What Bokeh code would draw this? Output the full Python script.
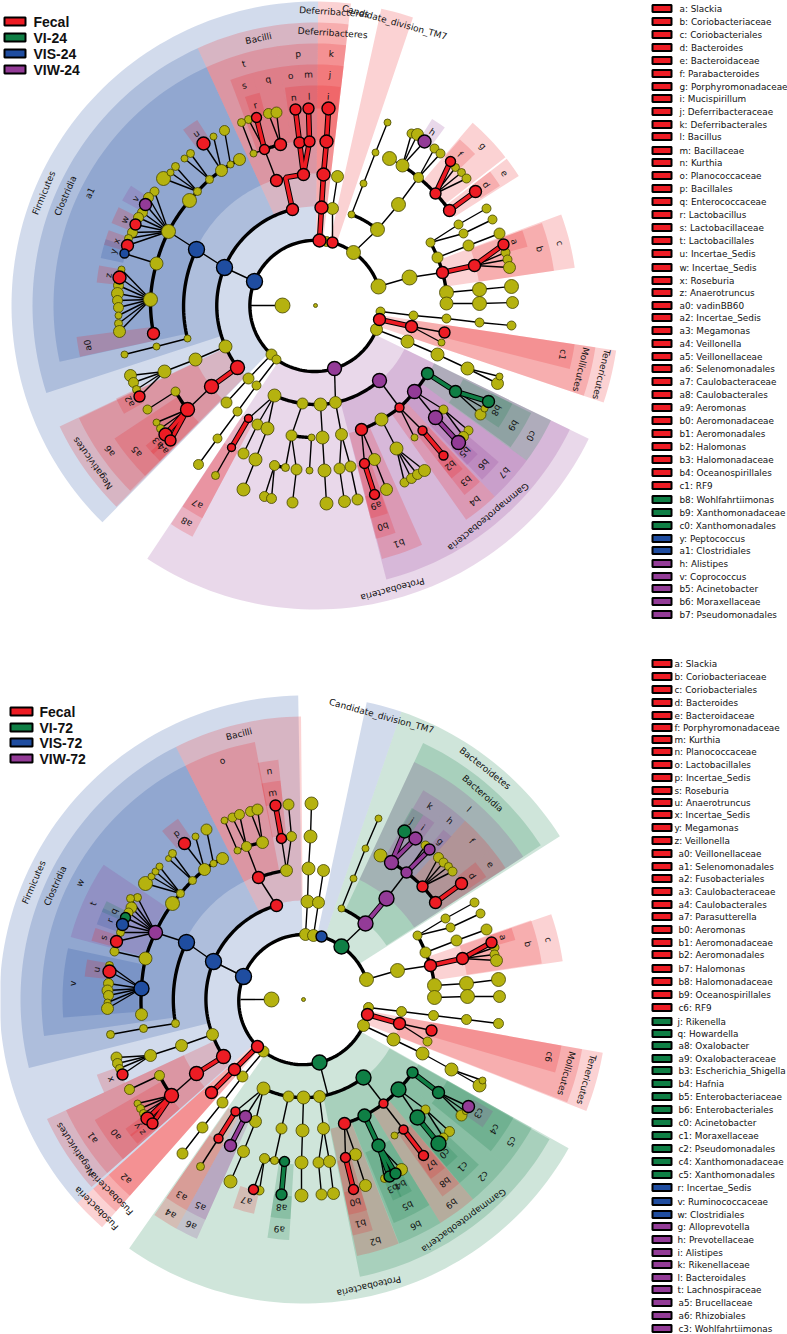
import math
from bokeh.plotting import figure
from bokeh.models import Range1d
from bokeh.core.properties import value
from bokeh.embed import file_html
from bokeh.resources import INLINE

# ---------- colours ----------
RED, GREEN, BLUE, PURPLE, OLIVE = "#ed1c24", "#0f7f45", "#1f4da0", "#933b97", "#b5b20f"
COL = {"R": RED, "G": GREEN, "B": BLUE, "P": PURPLE}

# ---------- clade rank geometry ----------
RANK_IN = {"phylum": 66, "class": 99, "order": 132, "family": 165, "genus": 197}
RANK_OUT = {"phylum": 304, "class": 283, "order": 262, "family": 241, "genus": 220}
RANK_LAB = {"phylum": 294, "class": 273, "order": 252, "family": 231, "genus": 209}

CENTER_24 = (315, 305)
CENTER_72 = (303, 999)

# ---------- panel 1 clades: name, start angle, end angle, rank, group ----------
clades_24 = [
    ("Firmicutes", 89.5, 225.5, "phylum", "B"), ("Deferribacteres", 83.3, 89.5, "phylum", "R"),
    ("Candidate_division_TM7", 71.3, 77.5, "phylum", "R"), ("Tenericutes", -18.6, -8.5, "phylum", "R"),
    ("Proteobacteria", -123.6, -26, "phylum", "P"),
    ("Clostridia", 114.6, 198, "class", "B"), ("Bacilli", 89.5, 114.6, "class", "R"),
    ("Deferribacteres", 83.3, 89.5, "class", "R"), ("Mollicutes", -18.6, -8.5, "class", "R"),
    ("Negativicutes", 205.3, 225.3, "class", "R"), ("Gammaproteobacteria", -75.5, -26, "class", "P"),
    ("a1", 114.6, 192.4, "order", "B"), ("t", 98.4, 114.6, "order", "R"), ("p", 89.5, 98.4, "order", "R"),
    ("k", 83.3, 89.5, "order", "R"), ("c", 8.3, 20.3, "order", "R"), ("c1", -14, -8.5, "order", "R"),
    ("a6", 205.5, 225, "order", "R"), ("a8", 236.5, 242, "order", "R"), ("b1", -75.3, -66, "order", "R"),
    ("b4", -54.9, -46.8, "order", "R"), ("b7", -46.8, -36.3, "order", "P"), ("c0", -36.3, -26, "order", "G"),
    ("s", 105.2, 110.7, "family", "R"), ("q", 98.4, 105.2, "family", "R"), ("o", 94, 98.4, "family", "R"),
    ("m", 89.5, 94, "family", "R"), ("j", 83.3, 89.5, "family", "R"), ("g", 38, 49.3, "family", "R"),
    ("e", 32.5, 37.5, "family", "R"), ("b", 8.3, 20, "family", "R"), ("a0", 187.5, 192.3, "family", "R"),
    ("a5", 213.5, 225, "family", "R"), ("a7", 236.5, 242, "family", "R"), ("b0", -75.5, -70.6, "family", "R"),
    ("b3", -51.8, -47, "family", "R"), ("b6", -46.3, -40.5, "family", "P"), ("b9", -36, -26.5, "family", "G"),
    ("r", 104.7, 108.7, "genus", "R"), ("n", 94, 98, "genus", "R"), ("l", 89.5, 94, "genus", "R"),
    ("i", 83.5, 89.5, "genus", "R"), ("h", 54, 58, "genus", "P"), ("f", 43.5, 49, "genus", "R"),
    ("d", 33, 37.5, "genus", "R"), ("a", 15.5, 20, "genus", "R"), ("u", 122.5, 127, "genus", "R"),
    ("v", 147, 151.5, "genus", "P"), ("w", 153.5, 158, "genus", "R"), ("x", 160, 164, "genus", "R"),
    ("y", 162.5, 167.5, "genus", "B"), ("z", 169.5, 174, "genus", "R"), ("a2", 205, 209.5, "genus", "R"),
    ("a3", 219.5, 222.5, "genus", "R"), ("a4", 221.5, 225, "genus", "R"), ("a9", -75.5, -70.8, "genus", "R"),
    ("b2", -51.8, -48, "genus", "R"), ("b5", -46.5, -42.5, "genus", "P"), ("b8", -33.7, -26.5, "genus", "G"),
]

clades_72 = [
    ("Firmicutes", 91, 222, "phylum", "B"), ("Fusobacteria", 222, 228.5, "phylum", "R"),
    ("Candidate_division_TM7", 71.2, 78, "phylum", "B"), ("Bacteroidetes", 32.5, 71.2, "phylum", "G"),
    ("Tenericutes", -21.5, -10.1, "phylum", "R"), ("Proteobacteria", -125, -29.3, "phylum", "G"),
    ("Bacilli", 90.5, 116.8, "class", "R"), ("Clostridia", 116.8, 194, "class", "B"),
    ("Negativicutes", 205, 221.5, "class", "R"), ("Fusobacteria", 222, 228.5, "class", "R"),
    ("Bacteroidia", 33, 65, "class", "G"), ("Mollicutes", -21.3, -10.1, "class", "R"),
    ("Gammaproteobacteria", -78.5, -29.6, "class", "G"),
    ("o", 100.7, 116.8, "order", "R"), ("w", 116.8, 188, "order", "B"), ("a1", 205, 221.5, "order", "R"),
    ("a2", 222, 228.5, "order", "R"), ("l", 33, 65, "order", "P"), ("c", 8.4, 19, "order", "R"),
    ("c6", -16.2, -10.1, "order", "R"), ("c5", -39.4, -29.4, "order", "G"), ("c2", -49.7, -39.4, "order", "G"),
    ("b9", -58.5, -49.7, "order", "R"), ("b6", -68.6, -58.5, "order", "G"), ("b2", -78.2, -68.7, "order", "R"),
    ("a4", 235.3, 241, "order", "R"), ("a6", 241, 246, "order", "P"),
    ("n", 96, 101, "family", "R"), ("v", 167.7, 184.3, "family", "B"), ("t", 146, 165, "family", "P"),
    ("a0", 210, 221.5, "family", "R"), ("k", 53.5, 60.2, "family", "P"), ("h", 47.9, 53.5, "family", "P"),
    ("f", 38.6, 47.9, "family", "R"), ("e", 33.1, 38.6, "family", "R"), ("b", 8.6, 19.2, "family", "R"),
    ("c4", -39, -29.4, "family", "G"), ("c1", -49.6, -43.3, "family", "G"), ("b8", -54.8, -49.7, "family", "R"),
    ("b5", -68, -58.5, "family", "G"), ("b1", -78.2, -73.3, "family", "R"), ("a3", 235.3, 241, "family", "R"),
    ("a5", 241, 246, "family", "P"), ("a9", 261.4, 266.6, "family", "G"),
    ("m", 96, 101, "genus", "R"), ("p", 124.8, 130, "genus", "R"), ("q", 153.5, 156.5, "genus", "G"),
    ("r", 155.5, 160, "genus", "B"), ("s", 161, 164.5, "genus", "R"), ("u", 169.5, 174, "genus", "R"),
    ("x", 200, 205, "genus", "R"), ("y", 216, 218.5, "genus", "R"), ("z", 218, 221, "genus", "R"),
    ("j", 57, 60.5, "genus", "G"), ("i", 53.5, 57, "genus", "P"), ("g", 47.8, 50.5, "genus", "P"),
    ("d", 33.8, 38.6, "genus", "R"), ("a", 15.7, 19, "genus", "R"), ("c3", -35.5, -30.5, "genus", "P"),
    ("c0", -49.5, -45.5, "genus", "G"), ("b7", -54.6, -50, "genus", "R"), ("b4", -64, -60.5, "genus", "G"),
    ("b3", -66, -63.5, "genus", "G"), ("b0", -78.1, -73.2, "genus", "R"), ("a8", 261.4, 266.6, "genus", "G"),
    ("a7", 251.3, 257, "genus", "R"),
]

# ---------- panel 1 nodes (x, y, size) ----------
olive_24 = [(282,305,7.5),(315,305,2),(156,263,6.5),(168,231,7),(154,191,4.5),(148,197,5),(142,212,5),(138,217,5),(132,232,5),(128,238,4),
    (189,200,7),(197,191,4),(209,179,4),(221,170,6),(230,164,3.5),(239,159,6),(163,178,7),(170,172,3.5),(175,166,4),(184,158,3.5),(190,153,4),(213,136,3.5),(224,130,5),
    (150,299,7),(121,269,3.5),(118,285,5),(117,293,6),(117,300,5),(118,307,5),(118,315,3.5),(118,323,4),(119,331,6),
    (187,338,3.5),(156,346,3.5),(124,354,3.5),(225,346,6.5),(195,359,6.5),(164,371,6.5),(130,375,6),(133,382,5),(136,389,4),
    (175,391,4.5),(147,409,4.5),(156,422,3.5),(160,428,4),(271,354,5.5),(276,359,4.5),(248,378,5.5),(226,402,5.5),(256,385,4.5),(237,411,4.5),(217,438,4.5),(198,464,5),
    (274,395,6.5),(302,403,5.5),(320,404,6.5),(335,402,6),(257,424,5.5),(243,453,5.5),(267,428,6.5),(255,459,6.5),(243,489,6.5),(215,475,4),
    (291,435,5.5),(311,437,3.5),(274,465,5),(285,467,4),(264,496,5),(271,498,5),(296,469,5.5),(292,502,5.5),(309,470,3.5),(322,437,6.5),(324,470,6.5),(326,503,6.5),
    (341,434,6),(350,466,5.5),(357,499,5.5),(339,468,5.5),(344,501,6),(381,419,6.5),(443,409,4.5),(468,430,4.5),(463,436,5),(414,437,3.5),(396,448,6.5),(404,482,4.5),(411,478,5),(417,474,5),(424,470,6),
    (374,459,6),(386,489,6),(480,414,5.5),(484,408,3.5),(376,329,6),(380,311,4.5),(441,342,3.5),(413,315,4.5),(446,318,4.5),(479,322,4.5),(511,325,4.5),
    (407,341,6.5),(437,354,6.5),(467,368,6.5),(497,383,6),(499,376,3.5),(378,286,7.5),(353,252,7),(326,241,5),(409,277,7.5),(437,257,5.5),(430,242,4.5),(446,292,7),(446,303,6.5),
    (479,289,7),(511,286,7),(479,303,7),(512,302,6),(505,252,4.5),(507,259,4.5),(509,267,6),(468,245,5.5),(499,233,5.5),(458,224,4.5),(486,208,4.5),(463,233,4.5),(492,219,4.5),
    (455,167,4),(461,172,4),(466,178,4.5),(418,177,5),(434,148,4.5),(440,153,4.5),(402,165,6.5),(398,204,7),(377,229,7),(351,214,3.5),(363,183,3.5),(375,152,3.5),(387,122,3.5),
    (389,158,7),(411,133,4.5),(417,134,6),(332,208,6),(337,176,6),(248,119,4),(241,122,4),(253,153,3.5),(268,113,5),(276,112,5.5)]
red_24 = [(203,143,6.5),(135,224,5.5),(127,245,6),(119,277,6.5),(153,333,6),(139,396,5.5),(237,367,7),(211,386,7),(187,409,7),(165,434,6.5),(170,440,5.5),(248,418,4),(231,447,4),
    (399,407,4.5),(361,429,6),(422,430,4.5),(443,455,4.5),(364,463,5),(374,494,5),(379,319,6),(411,326,6),(444,332,5.5),(442,272,6),(474,265,6),(503,244,5.5),
    (449,210,6),(435,193,5.5),(475,191,6),(450,161,5),(319,240,6.5),(332,242,5.5),(321,207,6.5),(323,174,6.5),(326,141,6.5),(328,108,6.5),
    (292,209,6),(276,180,6),(303,174,6),(299,142,5.5),(309,141,5.5),(295,109,5.5),(308,108,5.5),(264,149,5),(280,144,6),(256,117,5)]
green_24 = [(427,373,6),(455,391,6),(488,401,6)]
blue_24 = [(254,281,8),(224,267,8),(196,249,8),(124,253,4.5)]
purple_24 = [(145,204,6),(334,368,7),(379,380,7),(414,391,7),(435,417,7),(458,442,7),(424,141,6.5)]

# ---------- panel 1 branches ----------
thin_chains_24 = [
    [(254,281),(224,267),(196,249),(168,231)], [(156,263),(124,253)], [(187,338),(156,346),(124,354)],
    [(225,346),(195,359),(164,371)], [(211,386),(187,409)], [(175,391),(147,409)], [(271,354),(248,378),(226,402)],
    [(276,359),(256,385),(237,411),(217,438),(198,464)], [(334,368),(335,402)], [(274,395),(257,424),(243,453)],
    [(274,395),(267,428),(255,459),(243,489)], [(274,395),(248,418)], [(231,447),(215,475)], [(302,403),(291,435),(285,467)],
    [(291,435),(296,469),(292,502)], [(311,437),(309,470)], [(320,404),(322,437),(324,470),(326,503)],
    [(335,402),(341,434),(350,466),(357,499)], [(341,434),(339,468),(344,501)], [(379,380),(399,407)],
    [(414,391),(443,409),(468,430)], [(443,409),(463,436)], [(414,391),(435,417)], [(399,407),(422,430)], [(399,407),(414,437)],
    [(381,419),(396,448)], [(361,429),(364,463)], [(361,429),(374,459),(386,489)],
    [(376,329),(407,341),(437,354),(467,368),(497,383)], [(467,368),(499,376)], [(380,311),(413,315),(446,318),(479,322),(511,325)],
    [(411,326),(444,332)], [(411,326),(441,342)], [(378,286),(409,277),(442,272)], [(437,257),(468,245),(499,233)],
    [(430,242),(458,224),(486,208)], [(430,242),(463,233),(492,219)], [(446,292),(479,289),(511,286)], [(446,303),(479,303),(512,302)],
    [(353,252),(377,229),(398,204),(418,177)], [(351,214),(363,183),(375,152),(387,122)], [(332,242),(332,208),(337,176)],
    [(285,177),(276,180),(264,149),(248,119)], [(264,149),(253,153),(241,122)], [(280,144),(268,113)], [(280,144),(276,112)],
    [(250,305),(282,305)], [(402,165),(389,158)],
]
thin_fans_24 = [
    ((168,231),[(154,191),(148,197),(145,204),(142,212),(138,217),(135,224),(132,232),(128,238),(127,245)]),
    ((150,299),[(121,269),(119,277),(118,285),(117,293),(117,300),(118,307),(118,315),(118,323),(119,331)]),
    ((197,191),[(163,178),(170,172),(175,166)]), ((209,179),[(184,158),(190,153)]), ((221,170),[(203,143),(213,136)]), ((230,164),[(224,130)]),
    ((164,371),[(130,375),(133,382),(136,389),(139,396)]), ((187,409),[(156,422),(160,428)]), ((274,465),[(264,496),(271,498)]),
    ((396,448),[(404,482),(411,478),(417,474),(424,470)]), ((455,391),[(480,414),(484,408)]), ((474,265),[(505,252),(507,259),(509,267)]),
    ((435,193),[(455,167),(461,172),(466,178)]), ((418,177),[(434,148),(440,153)]), ((402,165),[(411,133),(417,134),(424,141)]),
]
thick_chains_24 = [
    [(378,286),(353,252),(332,242),(326,241),(319,240),(254,281),(271,354)], [(276,359),(334,368),(376,329),(379,319),(380,311)],
    [(292,209),(224,267),(225,346),(237,367)], [(196,249),(187,338)], [(239,159),(230,164),(221,170),(209,179),(197,191),(189,200),(168,231),(156,263),(150,299),(153,333)],
    [(264,149),(280,144)], [(187,409),(175,391)], [(402,165),(418,177),(435,193),(449,210)], [(377,229),(351,214)],
    [(430,242),(437,257),(442,272),(446,292),(446,303)], [(274,395),(302,403),(320,404),(335,402),(379,380)], [(291,435),(311,437)], [(274,465),(285,467)],
    [(361,429),(381,419),(399,407),(414,391),(427,373)],
]
red_edges_24 = [[(237,367),(211,386)],[(187,409),(165,434)],[(187,409),(170,440)],[(248,418),(231,447)],[(292,209),(285,177),(303,174)],
    [(303,174),(299,142),(295,109)],[(303,174),(309,141),(308,108)],[(319,240),(321,207),(323,174),(326,141),(328,108)],[(264,149),(256,117)],
    [(449,210),(475,191)],[(435,193),(450,161)],[(442,272),(474,265),(503,244)],[(379,319),(411,326)],[(364,463),(374,494)],[(422,430),(443,455)]]
green_edges_24 = [[(427,373),(455,391),(488,401)]]
purple_edges_24 = [[(435,417),(458,442)]]

# ---------- panel 2 nodes (x, y, size) ----------
olive_72 = [(271,999,7.5),(303,999,2),(145,958,6.5),(141,1014,6),(137,897,4),(130,898,4),(131,907,5.5),(128,912,4.5),(120,932,4),(114,951,4.5),
    (172,903,7),(180,893,4),(192,880,4),(204,869,6),(213,863,3.5),(222,858,6),(145,883,7),(151,876,3.5),(155,871,3.5),(159,866,3.5),(168,858,3),(172,853,4),(195,836,3.5),(206,829,5.5),
    (109,965,4),(108,983,5),(107,990,5.5),(108,995,5),(107,1002,3.5),(107,1008,6),(175,1023,4),(143,1028,4),(110,1034,4),(212,1034,6),(181,1045,6),(150,1055,6),(116,1057,5.5),(117,1063,5),(119,1068,4),
    (159,1075,5),(129,1089,5),(137,1103,3.5),(140,1108,4),(143,1113,4),(263,1051,5.5),(242,1076,5.5),(222,1102,5.5),(202,1127,5.5),(182,1153,5.5),
    (263,1088,6.5),(288,1096,5.5),(303,1097,6.5),(319,1096,6),(255,1121,6),(243,1151,6),(230,1181,6.5),(200,1166,4),(281,1128,5.5),(264,1158,5),(274,1160,4),(259,1190,4.5),
    (302,1130,6.5),(301,1162,6.5),(301,1195,6.5),(323,1128,6),(318,1162,5.5),(321,1194,5.5),(329,1161,6),(333,1193,6),(461,1115,5.5),(465,1111,3),
    (401,1169,6),(384,1178,4),(394,1135,3.5),(425,1109,4.5),(449,1131,5),(443,1137,4.5),(355,1154,6),(365,1185,6),
    (368,1007,5),(401,1011,5),(433,1015,5),(466,1019,5),(498,1023,5),(363,1025,6),(393,1039,6.5),(422,1053,6.5),(451,1069,6.5),(479,1085,6.5),(482,1080,3.5),(427,1041,4.5),
    (434,985,7),(466,983,7),(498,979,7),(434,997,7),(467,996,7),(499,996,6),(494,947,4.5),(494,954,4.5),(496,960,6),(397,970,7),(366,979,7),(305,934,6),(313,935,6),
    (425,952,5.5),(417,935,4.5),(456,940,5.5),(486,929,5.5),(445,918,4.5),(474,902,4.5),(450,927,4.5),(480,913,4.5),(341,908,3.5),(353,878,3.5),(365,848,3.5),(378,818,3.5),
    (380,855,6.5),(425,845,4.5),(438,857,5),(443,862,4.5),(448,866,4),(452,871,4.5),(311,803,6.5),(310,836,6.5),(308,868,6.5),(307,901,6.5),(318,902,6),(323,870,6),
    (286,870,6),(291,836,5),(288,804,5.5),(246,846,5),(262,842,6),(237,850,3.5),(224,820,3.5),(232,817,4.5),(239,814,5),(250,811,5),(257,809,5.5)]
red_72 = [(109,971,6.5),(116,941,6),(184,843,6),(122,1074,5.5),(223,1056,7),(196,1073,7),(171,1095,7),(147,1118,6.5),(152,1123,5.5),(257,1046,6),(234,1069,6),(211,1092,6),
    (235,1111,4.5),(218,1138,4.5),(253,1189,5),(383,1103,4.5),(344,1123,6),(345,1157,5),(353,1189,5),(403,1129,4.5),(423,1155,5),(367,1014,6),(399,1023,6),(431,1030,5.5),
    (430,965,6),(462,958,6),(491,942,5.5),(422,886,5.5),(435,902,6),(461,883,6),(276,905,6),(258,877,6),(281,838,5),(275,805,5.5)]
green_72 = [(125,917,5),(319,1062,7.5),(284,1161,5),(281,1194,5.5),(363,1077,7.5),(398,1089,7.5),(412,1072,5.5),(438,1092,6),(364,1115,6.5),(378,1145,6.5),(389,1176,5.5),(395,1173,5.5),
    (417,1117,7.5),(438,1143,7.5),(341,946,7.5),(404,831,6.5)]
blue_72 = [(243,976,8),(213,961,8),(186,942,8),(141,988,7.5),(122,924,6),(321,936,5.5)]
purple_72 = [(155,932,7),(245,1116,6),(230,1145,6),(468,1106,6),(365,923,7.5),(386,898,7.5),(406,872,5.5),(391,862,7),(415,838,6.5),(429,849,5.5)]

# ---------- panel 2 branches ----------
thin_chains_72 = [
    [(243,976),(213,961),(186,942),(155,932)], [(145,958),(114,951)], [(175,1023),(143,1028),(110,1034)], [(212,1034),(181,1045),(150,1055)],
    [(196,1073),(171,1095)], [(159,1075),(129,1089)], [(263,1051),(242,1076),(222,1102),(202,1127),(182,1153)], [(319,1062),(327,1093)],
    [(263,1088),(255,1121),(243,1151),(230,1181)], [(263,1088),(245,1116)], [(263,1088),(235,1111)], [(218,1138),(200,1166)], [(288,1096),(281,1128),(274,1160)],
    [(303,1097),(302,1130),(301,1162),(301,1195)], [(319,1096),(323,1128),(318,1162),(321,1194)], [(323,1128),(329,1161),(333,1193)],
    [(386,898),(406,872)], [(406,872),(425,845)], [(391,862),(380,855)], [(341,908),(353,878),(365,848),(378,818)], [(341,946),(365,923)],
    [(366,979),(397,970),(430,965)], [(425,952),(456,940),(486,929)], [(417,935),(445,918),(474,902)], [(417,935),(450,927),(480,913)],
    [(434,985),(466,983),(498,979)], [(434,997),(467,996),(499,996)], [(368,1007),(401,1011),(433,1015),(466,1019),(498,1023)],
    [(399,1023),(431,1030)], [(399,1023),(427,1041)], [(363,1025),(393,1039),(422,1053),(451,1069),(479,1085)], [(451,1069),(482,1080)],
    [(398,1089),(417,1117)], [(398,1089),(425,1109),(449,1131)], [(425,1109),(443,1137)], [(383,1103),(403,1129)], [(403,1129),(394,1135)],
    [(344,1123),(345,1157)], [(344,1123),(355,1154),(365,1185)], [(363,1077),(383,1103)],
    [(305,934),(307,901),(308,868),(310,836),(311,803)], [(313,935),(318,902),(323,870)],
    [(276,905),(258,877),(246,846)], [(286,870),(281,838)], [(286,870),(291,836),(288,804)], [(246,846),(237,850),(224,820)], [(240,999),(271,999)],
]
thin_fans_72 = [
    ((155,932),[(137,897),(130,898),(131,907),(128,912),(125,917),(122,924),(120,932),(116,941)]),
    ((141,988),[(109,965),(109,971),(108,983),(107,990),(108,995),(107,1002),(107,1008)]),
    ((150,1055),[(116,1057),(117,1063),(119,1068),(122,1074)]), ((171,1095),[(137,1103),(140,1108),(143,1113)]),
    ((180,893),[(145,883),(151,876),(155,871),(159,866)]), ((192,880),[(168,858),(172,853)]), ((204,869),[(184,843),(195,836)]), ((213,863),[(206,829)]),
    ((264,1158),[(253,1189),(259,1190)]), ((438,1092),[(468,1106),(461,1115),(465,1111)]), ((378,1145),[(384,1178),(401,1169)]),
    ((422,886),[(438,857),(443,862),(448,866),(452,871)]), ((462,958),[(494,947),(494,954),(496,960)]),
    ((246,846),[(232,817),(239,814)]), ((262,842),[(250,811),(257,809)]),
]
thick_chains_72 = [
    [(363,1025),(319,1062),(263,1051),(257,1046),(243,976),(305,934),(313,935),(321,936),(341,946),(366,979)],
    [(276,905),(213,961),(212,1034),(223,1056)], [(186,942),(175,1023)],
    [(222,858),(213,863),(204,869),(192,880),(180,893),(172,903),(155,932),(145,958),(141,988),(141,1014)],
    [(258,877),(286,870)], [(246,846),(262,842)], [(264,1158),(274,1160),(284,1161)], [(365,923),(341,908)],
    [(417,935),(425,952),(430,965),(434,985),(434,997)], [(391,862),(406,872),(422,886),(435,902)],
    [(263,1088),(288,1096),(303,1097),(319,1096),(363,1077)], [(344,1123),(364,1115),(383,1103),(398,1089),(412,1072)], [(171,1095),(159,1075)],
]
red_edges_72 = [[(223,1056),(196,1073)],[(171,1095),(147,1118)],[(171,1095),(152,1123)],[(257,1046),(234,1069),(211,1092)],[(235,1111),(218,1138)],
    [(345,1157),(353,1189)],[(403,1129),(423,1155)],[(367,1014),(399,1023)],[(430,965),(462,958),(491,942)],[(435,902),(461,883)],[(281,838),(275,805)]]
green_edges_72 = [[(284,1161),(281,1194)],[(364,1115),(378,1145),(389,1176)],[(378,1145),(395,1173)],[(412,1072),(438,1092)],[(417,1117),(438,1143)]]
purple_edges_72 = [[(245,1116),(230,1145)],[(365,923),(386,898)],[(406,872),(429,849)],[(391,862),(404,831)],[(391,862),(415,838)]]

# ---------- legends ----------
groups_24 = ["Fecal", "VI-24", "VIS-24", "VIW-24"]
groups_72 = ["Fecal", "VI-72", "VIS-72", "VIW-72"]
group_keys = ["R", "G", "B", "P"]
group_y_24 = [21, 37, 53, 69]
group_y_72 = [711, 727, 742, 758]

legend_24 = [
 ("a: Slackia","R",8),("b: Coriobacteriaceae","R",21),("c: Coriobacteriales","R",34),("d: Bacteroides","R",47),("e: Bacteroidaceae","R",60),
 ("f: Parabacteroides","R",73),("g: Porphyromonadaceae","R",86),("i: Mucispirillum","R",98),("j: Deferribacteraceae","R",111),("k: Deferribacterales","R",124),
 ("l: Bacillus","R",136),("m: Bacillaceae","R",150),("n: Kurthia","R",162),("o: Planococcaceae","R",175),("p: Bacillales","R",188),
 ("q: Enterococcaceae","R",201),("r: Lactobacillus","R",214),("s: Lactobacillaceae","R",227),("t: Lactobacillales","R",240),("u: Incertae_Sedis","R",253),
 ("w: Incertae_Sedis","R",267),("x: Roseburia","R",280),("z: Anaerotruncus","R",292),("a0: vadinBB60","R",305),("a2: Incertae_Sedis","R",317),
 ("a3: Megamonas","R",330),("a4: Veillonella","R",343),("a5: Veillonellaceae","R",356),("a6: Selenomonadales","R",368),("a7: Caulobacteraceae","R",381),
 ("a8: Caulobacterales","R",394),("a9: Aeromonas","R",407),("b0: Aeromonadaceae","R",420),("b1: Aeromonadales","R",433),("b2: Halomonas","R",446),
 ("b3: Halomonadaceae","R",459),("b4: Oceanospirillales","R",472),("c1: RF9","R",485),("b8: Wohlfahrtiimonas","G",499),("b9: Xanthomonadaceae","G",512),
 ("c0: Xanthomonadales","G",525),("y: Peptococcus","B",538),("a1: Clostridiales","B",550),("h: Alistipes","P",563),("v: Coprococcus","P",576),
 ("b5: Acinetobacter","P",588),("b6: Moraxellaceae","P",601),("b7: Pseudomonadales","P",614),
]
legend_72 = [
 ("a: Slackia","R",663),("b: Coriobacteriaceae","R",676),("c: Coriobacteriales","R",689),("d: Bacteroides","R",702),("e: Bacteroidaceae","R",715),
 ("f: Porphyromonadaceae","R",727),("m: Kurthia","R",739),("n: Planococcaceae","R",751),("o: Lactobacillales","R",764),("p: Incertae_Sedis","R",777),
 ("s: Roseburia","R",790),("u: Anaerotruncus","R",802),("x: Incertae_Sedis","R",814),("y: Megamonas","R",827),("z: Veillonella","R",840),
 ("a0: Veillonellaceae","R",853),("a1: Selenomonadales","R",866),("a2: Fusobacteriales","R",878),("a3: Caulobacteraceae","R",891),("a4: Caulobacterales","R",904),
 ("a7: Parasutterella","R",916),("b0: Aeromonas","R",929),("b1: Aeromonadaceae","R",942),("b2: Aeromonadales","R",954),("b7: Halomonas","R",968),
 ("b8: Halomonadaceae","R",981),("b9: Oceanospirillales","R",994),("c6: RF9","R",1007),("j: Rikenella","G",1021),("q: Howardella","G",1033),
 ("a8: Oxalobacter","G",1045),("a9: Oxalobacteraceae","G",1058),("b3: Escherichia_Shigella","G",1070),("b4: Hafnia","G",1083),("b5: Enterobacteriaceae","G",1096),
 ("b6: Enterobacteriales","G",1109),("c0: Acinetobacter","G",1122),("c1: Moraxellaceae","G",1135),("c2: Pseudomonadales","G",1148),("c4: Xanthomonadaceae","G",1161),
 ("c5: Xanthomonadales","G",1174),("r: Incertae_Sedis","B",1187),("v: Ruminococcaceae","B",1201),("w: Clostridiales","B",1214),("g: Alloprevotella","P",1226),
 ("h: Prevotellaceae","P",1239),("i: Alistipes","P",1252),("k: Rikenellaceae","P",1264),("l: Bacteroidales","P",1277),("t: Lachnospiraceae","P",1289),
 ("a5: Brucellaceae","P",1302),("a6: Rhizobiales","P",1315),("c3: Wohlfahrtiimonas","P",1328),
]

# ---------- figure ----------
p = figure(width=787, height=1334, x_range=Range1d(0, 787), y_range=Range1d(1334, 0),
           x_axis_type=None, y_axis_type=None, toolbar_location=None, output_backend="svg",
           min_border=0, outline_line_color=None, background_fill_color="white", border_fill_color="white")
p.grid.visible = False
FONT = value("DejaVu Sans")


def polar_pt(c, a, r):
    t = math.radians(a)
    return c[0] + r * math.cos(t), c[1] - r * math.sin(t)


def draw_clades(c, clades):
    xs, ys, cols = [], [], []
    for _, a0, a1, rank, g in clades:
        n = max(3, int(abs(a1 - a0) / 1.5) + 2)
        angs = [a0 + (a1 - a0) * i / (n - 1) for i in range(n)]
        outer = [polar_pt(c, a, RANK_OUT[rank]) for a in angs]
        inner = [polar_pt(c, a, RANK_IN[rank]) for a in reversed(angs)]
        pts = outer + inner
        xs.append([q[0] for q in pts]); ys.append([q[1] for q in pts]); cols.append(COL[g])
    p.patches(xs, ys, fill_color=cols, fill_alpha=0.2, line_color=None)


def clade_labels(c, clades):
    xs, ys, txt, ang = [], [], [], []
    for name, a0, a1, rank, _ in clades:
        m = (a0 + a1) / 2
        x, y = polar_pt(c, m, RANK_LAB[rank])
        xs.append(x); ys.append(y); txt.append(name); ang.append(math.radians(m - 90))
    p.text(xs, ys, text=txt, angle=ang, text_align="center", text_baseline="middle",
           text_font=FONT, text_font_size="9px", text_color="#111111")


def arc_path(c, a, b, n=24):
    ra = math.hypot(a[0] - c[0], a[1] - c[1]); rb = math.hypot(b[0] - c[0], b[1] - c[1])
    ta = math.atan2(c[1] - a[1], a[0] - c[0]); tb = math.atan2(c[1] - b[1], b[0] - c[0])
    d = (tb - ta + math.pi) % (2 * math.pi) - math.pi
    out = []
    for i in range(n + 1):
        s = i / n
        r = ra + (rb - ra) * s; t = ta + d * s
        out.append((c[0] + r * math.cos(t), c[1] - r * math.sin(t)))
    return out


def draw_edges(c, thin_chains, thin_fans, thick_chains, coloured):
    xs, ys = [], []
    for ch in thin_chains:
        xs.append([q[0] for q in ch]); ys.append([q[1] for q in ch])
    for parent, kids in thin_fans:
        for k in kids:
            xs.append([parent[0], k[0]]); ys.append([parent[1], k[1]])
    p.multi_line(xs, ys, line_color="black", line_width=1.4)
    xs, ys = [], []
    for ch in thick_chains:
        pts = []
        for a, b in zip(ch[:-1], ch[1:]):
            pts += arc_path(c, a, b)
        xs.append([q[0] for q in pts]); ys.append([q[1] for q in pts])
    p.multi_line(xs, ys, line_color="black", line_width=3.4, line_join="round")
    for col, chains in coloured:
        xs = [[q[0] for q in ch] for ch in chains]
        ys = [[q[1] for q in ch] for ch in chains]
        p.multi_line(xs, ys, line_color="black", line_width=5.6)
        p.multi_line(xs, ys, line_color=col, line_width=3.6)


def draw_nodes(sets):
    for col, nodes, lw in sets:
        p.scatter([n[0] for n in nodes], [n[1] for n in nodes], size=[2 * n[2] for n in nodes],
                  fill_color=col, line_color="black" if lw > 1 else "#444400", line_width=lw)


def legend_blocks(groups, group_y, rect_x0, rect_x1, text_x, entries, lx):
    p.quad(left=[rect_x0] * 4, right=[rect_x1] * 4, top=[y - 4 for y in group_y], bottom=[y + 4 for y in group_y],
           fill_color=[COL[k] for k in group_keys], line_color="black", line_width=2)
    p.text([text_x] * 4, group_y, text=groups, text_align="left", text_baseline="middle",
           text_font=value("Liberation Sans"), text_font_style="bold", text_font_size="14px", text_color="#111111")
    ys = [e[2] for e in entries]
    p.quad(left=[652] * len(ys), right=[671] * len(ys), top=[y - 3.5 for y in ys], bottom=[y + 3.5 for y in ys],
           fill_color=[COL[e[1]] for e in entries], line_color="black", line_width=2)
    xs = [lx(e) for e in entries]
    p.text(xs, ys, text=[e[0] for e in entries], text_align="left", text_baseline="middle",
           text_font=FONT, text_font_size="8.85px", text_color="#111111")


draw_clades(CENTER_24, clades_24)
draw_clades(CENTER_72, clades_72)
clade_labels(CENTER_24, clades_24)
clade_labels(CENTER_72, clades_72)
draw_edges(CENTER_24, thin_chains_24, thin_fans_24, thick_chains_24,
           [(RED, red_edges_24), (GREEN, green_edges_24), (PURPLE, purple_edges_24)])
draw_edges(CENTER_72, thin_chains_72, thin_fans_72, thick_chains_72,
           [(RED, red_edges_72), (GREEN, green_edges_72), (PURPLE, purple_edges_72)])
draw_nodes([(OLIVE, olive_24, 0.8), (RED, red_24, 1.4), (GREEN, green_24, 1.4), (BLUE, blue_24, 1.4), (PURPLE, purple_24, 1.4),
            (OLIVE, olive_72, 0.8), (RED, red_72, 1.4), (GREEN, green_72, 1.4), (BLUE, blue_72, 1.4), (PURPLE, purple_72, 1.4)])
legend_blocks(groups_24, group_y_24, 4, 25, 33, legend_24, lambda e: 679)
legend_blocks(groups_72, group_y_72, 10, 32, 39, legend_72,
              lambda e: (674 if e[2] < 1010 else 677) if e[0][1] == ":" else 678)

open("out.html", "w").write(file_html(p, INLINE))
